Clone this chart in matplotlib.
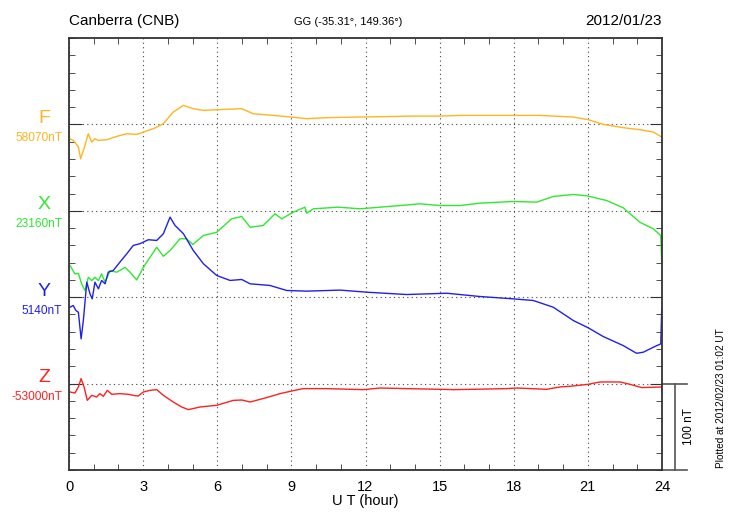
import matplotlib
matplotlib.use("Agg")
import matplotlib.pyplot as plt
import numpy as np

plt.rcParams['font.family'] = ['Liberation Sans', 'DejaVu Sans']

# deviations in nT from each baseline
f_hour = [0.04, 0.17, 0.38, 0.47, 0.61, 0.78, 0.92, 1.05, 1.19, 1.53, 1.93, 2.33, 2.74, 3.01,
          3.41, 3.82, 4.22, 4.63, 5.03, 5.44, 5.98, 6.99, 7.45, 8.26, 9.01, 9.62, 10.43, 11.71,
          13.93, 15.01, 15.82, 17.98, 19.06, 20.41, 21.02, 21.62, 22.43, 23.1, 23.65, 23.99]
f_dev = [-16.6, -18.5, -26.0, -39.7, -27.8, -10.8, -20.5, -16.6, -18.5, -17.7, -13.9, -10.8,
         -11.6, -8.9, -5.0, 0.8, 14.3, 22.0, 18.2, 16.2, 17.0, 18.2, 12.4, 10.4, 8.5, 6.6, 7.8,
         8.5, 9.6, 9.6, 10.4, 10.4, 10.4, 8.5, 5.4, 0.0, -3.8, -6.1, -8.9, -14.7]

x_hour = [0.04, 0.24, 0.38, 0.51, 0.65, 0.78, 0.92, 1.05, 1.19, 1.32, 1.46, 1.66, 1.93, 2.27,
          2.47, 2.74, 3.01, 3.28, 3.55, 3.82, 4.09, 4.49, 4.76, 5.01, 5.44, 5.98, 6.58, 6.99,
          7.33, 7.86, 8.34, 8.61, 9.08, 9.55, 9.62, 9.89, 10.9, 11.78, 12.59, 13.4, 14.2, 15.01,
          15.82, 16.63, 17.98, 18.93, 19.6, 20.41, 20.95, 21.76, 22.43, 23.1, 23.65, 23.95, 23.99]
x_dev = [-63.4, -73.0, -72.3, -84.6, -92.4, -76.9, -80.8, -76.9, -80.8, -73.0, -82.7, -69.2,
         -71.1, -65.4, -71.1, -80.0, -65.4, -53.8, -42.2, -52.6, -46.0, -32.4, -32.4, -39.0,
         -28.6, -24.8, -9.3, -6.6, -19.0, -17.0, -3.5, -9.3, -1.6, 4.2, -2.8, 2.3, 4.2, 2.3,
         4.2, 6.1, 8.1, 6.1, 6.1, 8.8, 10.8, 10.0, 16.6, 18.9, 17.4, 11.9, 3.5, -13.2, -20.9,
         -28.6, -61.4]

y_hour = [0.04, 0.17, 0.28, 0.38, 0.49, 0.58, 0.72, 0.85, 0.94, 1.05, 1.19, 1.32, 1.46, 1.59,
          1.79, 2.06, 2.34, 2.6, 2.87, 3.21, 3.55, 3.82, 4.09, 4.29, 4.63, 5.03, 5.44, 5.98,
          6.52, 6.99, 7.33, 8.13, 8.81, 9.62, 10.97, 12.05, 13.67, 15.29, 16.63, 17.98, 18.79,
          19.6, 20.41, 21.02, 21.62, 22.43, 22.97, 23.24, 23.65, 23.95, 23.99]
y_dev = [-11.6, -9.6, -15.4, -17.4, -48.2, -27.0, 17.4, 3.9, -1.9, 17.4, 9.7, 19.4, 15.5, 29.0,
         30.9, 40.6, 50.3, 59.9, 61.9, 66.5, 65.7, 73.5, 92.7, 83.1, 73.5, 54.1, 38.7, 25.1,
         19.4, 20.5, 15.5, 13.6, 7.8, 7.0, 8.2, 5.8, 3.1, 4.6, 0.8, -1.9, -3.8, -11.6, -27.0,
         -35.5, -45.5, -56.0, -64.9, -63.7, -57.9, -54.0, -13.4]

z_hour = [0.04, 0.24, 0.38, 0.49, 0.61, 0.74, 0.92, 1.12, 1.25, 1.39, 1.55, 1.73, 2.06, 2.4,
          2.6, 2.8, 3.01, 3.28, 3.55, 3.82, 4.22, 4.56, 4.83, 5.3, 5.98, 6.65, 7.0, 7.33, 8.0,
          8.54, 9.01, 9.48, 10.43, 11.91, 12.59, 13.67, 15.01, 15.55, 16.36, 17.71, 18.12,
          19.33, 19.87, 20.28, 21.02, 21.49, 22.3, 22.7, 23.18, 23.99, 24.0]
z_dev = [-9.7, -10.9, -3.9, 5.8, -3.9, -19.4, -13.6, -15.5, -11.6, -14.7, -7.8, -12.4, -11.6,
         -12.4, -13.6, -14.4, -9.7, -7.8, -7.0, -13.6, -21.3, -27.1, -30.1, -27.1, -25.1,
         -19.4, -19.0, -21.3, -16.2, -11.6, -8.6, -5.8, -5.8, -7.0, -5.1, -5.8, -6.6, -7.0,
         -6.6, -5.8, -5.1, -6.6, -3.9, -3.1, -0.8, 1.9, 1.9, -0.8, -4.6, -3.9, -8.6]

names = ['F', 'X', 'Y', 'Z']
base_labels = ['58070nT', '23160nT', '5140nT', '-53000nT']
offsets = [300, 200, 100, 0]
colors = ['#FFB420', '#30E830', '#2020EE', '#FF2020']
hours = [f_hour, x_hour, y_hour, z_hour]
devs = [f_dev, x_dev, y_dev, z_dev]

W, H = 730, 520
fig = plt.figure(figsize=(W / 100, H / 100), dpi=100)
ax = fig.add_axes([69 / W, 50 / H, 593 / W, 432 / H])

for h, d, off, c in zip(hours, devs, offsets, colors):
    ax.plot(h, np.array(d) + off, color=c, lw=1.0)

ax.set_xlim(0, 24)
ax.set_ylim(-100, 400)
ax.set_xticks(range(0, 25, 3))
ax.set_xticks(range(25), minor=True)
ax.set_yticks(offsets)
ax.set_yticks(range(-100, 401, 20), minor=True)
ax.set_yticklabels([])
ax.tick_params(which='both', direction='in', top=True, right=True, color='#333333')
ax.tick_params(axis='x', which='major', length=0, labelsize=10.5, pad=7)
ax.tick_params(axis='x', which='minor', length=4)
ax.tick_params(axis='y', which='major', length=9)
ax.tick_params(axis='y', which='minor', length=4.5)
ax.grid(which='major', linestyle=(0, (1, 3)), color='#444444', lw=0.8)
for s in ax.spines.values():
    s.set_linewidth(1.3)
    s.set_color('#333333')
ax.set_xlabel('U T (hour)', fontsize=10.5, labelpad=0)

# component labels on the left
for n, lab, off, c in zip(names, base_labels, offsets, colors):
    ypix = 383.3 - off * 0.863
    fig.text(44 / W, 1 - (ypix - 6) / H, n, color=c, fontsize=14, ha='center', va='center')
    fig.text(62 / W, 1 - (ypix + 13.5) / H, lab, color=c, fontsize=8.6, ha='right', va='center')

fig.text(69 / W, 1 - 21 / H, 'Canberra (CNB)', fontsize=11, ha='left', va='center')
fig.text(662 / W, 1 - 21 / H, '2012/01/23', fontsize=11, ha='right', va='center')
fig.text(348 / W, 1 - 22 / H, 'GG (-35.31°, 149.36°)', fontsize=8, ha='center', va='center')

# 100 nT scale bar
ax.plot([24, 25.0], [0, 0], color='#555555', lw=1.2, clip_on=False)
ax.plot([24, 25.0], [-100, -100], color='#555555', lw=1.2, clip_on=False)
ax.plot([24.53, 24.53], [-100, 0], color='#555555', lw=1.2, clip_on=False)
fig.text(689 / W, 1 - 427 / H, '100 nT', fontsize=8.5, rotation=90, ha='center', va='center')
fig.text(721 / W, 1 - 468 / H, 'Plotted at 2012/02/23 01:02 UT', fontsize=7.2, rotation=90,
         ha='center', va='bottom')

fig.savefig('out.png', dpi=100)
